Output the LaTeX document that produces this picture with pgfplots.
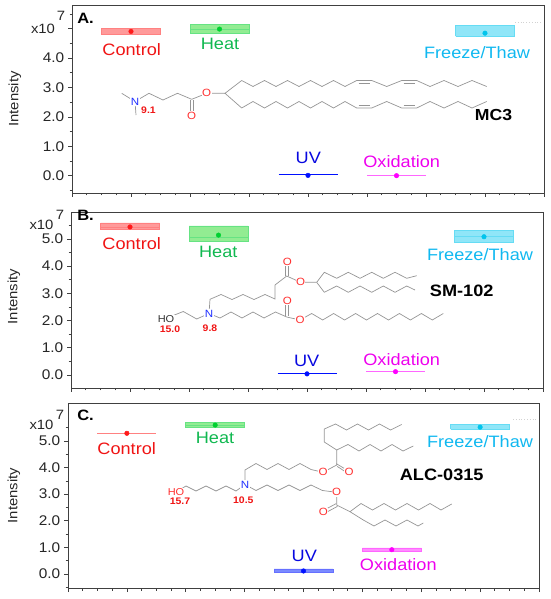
\documentclass[border=0pt]{standalone}
\usepackage{fontspec}
\setmainfont{Liberation Sans}[FakeStretch=1.1]
\usepackage{pgfplots}
\pgfplotsset{compat=1.18}
\definecolor{cR}{HTML}{FF1A1A}
\definecolor{cRt}{HTML}{F01414}
\definecolor{cRf}{HTML}{FF9A9A}
\definecolor{cG}{HTML}{00D030}
\definecolor{cGt}{HTML}{10B850}
\definecolor{cGf}{HTML}{92EC92}
\definecolor{cC}{HTML}{00C4EC}
\definecolor{cCt}{HTML}{10B8F0}
\definecolor{cCf}{HTML}{90E6F8}
\definecolor{cB}{HTML}{0010FF}
\definecolor{cBt}{HTML}{0808E0}
\definecolor{cBf}{HTML}{7A8AFF}
\definecolor{cM}{HTML}{FF00FF}
\definecolor{cMt}{HTML}{EE00EE}
\definecolor{cMf}{HTML}{FF8CFF}
\definecolor{frame}{HTML}{404040}
\definecolor{stc}{HTML}{959595}
\definecolor{oc}{HTML}{FF3030}
\definecolor{nc}{HTML}{2030FF}
\pgfplotsset{
  panel/.style={scale only axis, anchor=south west,
    xmin=0, xmax=8, xtick={0,...,8}, xticklabels={}, minor x tick num=3,
    ytick={0,...,5}, minor ytick={-0.5,0.5,1.5,2.5,3.5,4.5,5.5},
    tick align=outside, tick pos=left,
    major tick length=4pt, minor tick length=2.5pt,
    axis line style={draw=frame, line width=0.9pt},
    every tick/.style={frame, line width=0.7pt},
    yticklabel style={font=\fontsize{14}{14}\selectfont, text=black!85, xshift=-0.3pt},
  },
  bx/.style={line width=0.6pt},
  pt/.style={only marks, mark=*, mark size=2.3pt},
  st/.style={draw=stc, line width=0.7pt},
}
\tikzset{lab/.style={font=\fontsize{16.5}{18}\selectfont},
  sc/.style={font=\fontsize{13.5}{14}\selectfont, text=black!85, inner sep=1pt},
  yl/.style={rotate=90, font=\fontsize{13.5}{14}\selectfont, text=black!85}}
\begin{document}
\begin{tikzpicture}
\path[use as bounding box] (0,0) rectangle (550pt,599pt);

% ---------------- Panel A ----------------
\begin{axis}[panel, at={(72pt,406pt)}, width=472pt, height=188pt,
  ymin=-0.59, ymax=5.81, yticklabels={0.0,1.0,2.0,3.0,4.0,{}}]
\addplot[bx, fill=cRf, draw=cR!55] coordinates {(0.5,4.80) (1.5,4.80) (1.5,5.00) (0.5,5.00) (0.5,4.80)};
\addplot[pt, color=cR] coordinates {(1,4.91)};
\addplot[bx, fill=cGf, draw=cG!60] coordinates {(2,4.84) (3,4.84) (3,5.16) (2,5.16) (2,4.84)};
\addplot[cG!60, line width=0.6pt] coordinates {(2,4.99) (3,4.99)};
\addplot[pt, color=cG] coordinates {(2.5,4.99)};
\addplot[cB, line width=1.1pt] coordinates {(3.5,0.03) (4.5,0.03)};
\addplot[pt, color=cB] coordinates {(4,0.01)};
\addplot[cM!60, line width=0.9pt] coordinates {(5,0.02) (6,0.02)};
\addplot[pt, color=cM] coordinates {(5.5,0.0)};
\addplot[bx, fill=cCf, draw=cC!60] coordinates {(6.5,4.74) (7.5,4.74) (7.5,5.12) (6.5,5.12) (6.5,4.74)};
\addplot[pt, color=cC] coordinates {(7,4.85)};
\end{axis}

% ---------------- Panel B ----------------
\begin{axis}[panel, at={(71pt,211pt)}, width=472pt, height=176pt,
  ymin=-0.48, ymax=5.99, yticklabels={0.0,1.0,2.0,3.0,4.0,5.0}]
\addplot[bx, fill=cRf, draw=cR!55] coordinates {(0.5,5.34) (1.5,5.34) (1.5,5.59) (0.5,5.59) (0.5,5.34)};
\addplot[cR!55, line width=0.6pt] coordinates {(0.5,5.44) (1.5,5.44)};
\addplot[pt, color=cR] coordinates {(1,5.44)};
\addplot[bx, fill=cGf, draw=cG!60] coordinates {(2,4.90) (3,4.90) (3,5.48) (2,5.48) (2,4.90)};
\addplot[cG!60, line width=0.6pt] coordinates {(2,5.06) (3,5.06)};
\addplot[pt, color=cG] coordinates {(2.5,5.14)};
\addplot[cB, line width=1.1pt] coordinates {(3.5,0.05) (4.5,0.05)};
\addplot[pt, color=cB] coordinates {(4,0.04)};
\addplot[cM!60, line width=0.9pt] coordinates {(5,0.14) (6,0.14)};
\addplot[pt, color=cM] coordinates {(5.5,0.12)};
\addplot[bx, fill=cCf, draw=cC!60] coordinates {(6.5,4.86) (7.5,4.86) (7.5,5.31) (6.5,5.31) (6.5,4.86)};
\addplot[cC!60, line width=0.6pt] coordinates {(6.5,5.08) (7.5,5.08)};
\addplot[pt, color=cC] coordinates {(7,5.08)};
\end{axis}

% ---------------- Panel C ----------------
\begin{axis}[panel, at={(68pt,11pt)}, width=471pt, height=185pt,
  ymin=-0.53, ymax=6.43, yticklabels={0.0,1.0,2.0,3.0,4.0,5.0}]
\addplot[cR!55, line width=0.9pt] coordinates {(0.5,5.29) (1.5,5.29)};
\addplot[pt, color=cR] coordinates {(1,5.29)};
\addplot[bx, fill=cGf, draw=cG!60] coordinates {(2,5.50) (3,5.50) (3,5.71) (2,5.71) (2,5.50)};
\addplot[cG!60, line width=0.6pt] coordinates {(2,5.60) (3,5.60)};
\addplot[pt, color=cG] coordinates {(2.5,5.60)};
\addplot[bx, fill=cBf, draw=cB!60] coordinates {(3.5,0.05) (4.5,0.05) (4.5,0.19) (3.5,0.19) (3.5,0.05)};
\addplot[pt, color=cB] coordinates {(4,0.11)};
\addplot[bx, fill=cMf, draw=cM!60] coordinates {(5,0.84) (6,0.84) (6,0.98) (5,0.98) (5,0.84)};
\addplot[pt, color=cM] coordinates {(5.5,0.91)};
\addplot[bx, fill=cCf, draw=cC!60] coordinates {(6.5,5.44) (7.5,5.44) (7.5,5.61) (6.5,5.61) (6.5,5.44)};
\addplot[pt, color=cC] coordinates {(7,5.52)};
\end{axis}

% ---------------- Overlay (pixel coordinates) ----------------
\begin{axis}[at={(0pt,0pt)}, anchor=south west, scale only axis, width=550pt, height=599pt,
  xmin=0, xmax=550, ymin=0, ymax=599, y dir=reverse, hide axis, clip=false]
\node[yl] at (axis cs:15,99) {Intensity};
\node[yl] at (axis cs:14,296.5) {Intensity};
\node[yl] at (axis cs:14,495.5) {Intensity};
\node[sc] at (axis cs:43,29) {x10};
\node[sc] at (axis cs:61,15.5) {7};
\node[sc] at (axis cs:41.5,225) {x10};
\node[sc] at (axis cs:60,215) {7};
\node[sc] at (axis cs:41.5,425) {x10};
\node[sc] at (axis cs:60,414.5) {7};
\node[font=\bfseries\fontsize{15}{15}\selectfont] at (axis cs:85.5,18.5) {A.};
\node[font=\bfseries\fontsize{15}{15}\selectfont] at (axis cs:85.5,215.5) {B.};
\node[font=\bfseries\fontsize{15}{15}\selectfont] at (axis cs:85.5,415) {C.};
% condition labels A
\node[lab, text=cRt] at (axis cs:131.7,50) {Control};
\node[lab, text=cGt] at (axis cs:220,43.5) {Heat};
\node[lab, text=cCt] at (axis cs:477,52.7) {Freeze/Thaw};
\node[lab, text=cBt] at (axis cs:308.3,158.3) {UV};
\node[lab, text=cMt] at (axis cs:401.7,161.5) {Oxidation};
% condition labels B
\node[lab, text=cRt] at (axis cs:131.7,243.3) {Control};
\node[lab, text=cGt] at (axis cs:218.3,252.3) {Heat};
\node[lab, text=cCt] at (axis cs:480,255) {Freeze/Thaw};
\node[lab, text=cBt] at (axis cs:306.7,361) {UV};
\node[lab, text=cMt] at (axis cs:401.7,360) {Oxidation};
% condition labels C
\node[lab, text=cRt] at (axis cs:126.7,448.3) {Control};
\node[lab, text=cGt] at (axis cs:215,438.3) {Heat};
\node[lab, text=cCt] at (axis cs:480,441.7) {Freeze/Thaw};
\node[lab, text=cBt] at (axis cs:304.3,556) {UV};
\node[lab, text=cMt] at (axis cs:398.3,565) {Oxidation};
\addplot[gray!35, dotted, line width=0.8pt] coordinates {(515,22) (541,22)};
\addplot[gray!35, dotted, line width=0.8pt] coordinates {(513,419) (536,419)};

% ===== MC3 structure =====
\addplot[st] coordinates {(121.7,93.3) (135,101.5)};
\addplot[st] coordinates {(135,101.5) (136,115)};
\addplot[st] coordinates {(135,101.5) (149,93.3) (163,100) (177.5,93.3) (191.7,99.3) (206.7,93.3) (225,93.3)};
\addplot[st] coordinates {(190.4,100) (190.4,112)};
\addplot[st] coordinates {(193,100) (193,112)};
\addplot[st] coordinates {(241.7,80.5) (225,93.3) (241.7,108)};
\addplot[st] coordinates {(241.7,80.5) (253,86.5) (264.5,80.5) (276,86.5) (287.5,80.5) (299,86.5) (310.5,80.5) (322,86.5) (333.5,80.5) (345,86.5) (356.7,80.5) (371.7,80.5) (386.7,86.5) (401.7,80.5) (416.7,80.5) (430,86.5) (444,80.5) (458,86.5) (472,80.5) (486.7,86.5)};
\addplot[st] coordinates {(358.5,83.3) (370,83.3)};
\addplot[st] coordinates {(403.5,83.3) (415,83.3)};
\addplot[st] coordinates {(241.7,108) (253,101.5) (264.5,108) (276,101.5) (287.5,108) (299,101.5) (310.5,108) (322,101.5) (333.5,108) (345,101.5) (356.7,108) (371.7,108) (386.7,101.5) (401.7,108) (416.7,108) (430,101.5) (444,108) (458,101.5) (472,108) (486.7,101.5)};
\addplot[st] coordinates {(358.5,105.2) (370,105.2)};
\addplot[st] coordinates {(403.5,105.2) (415,105.2)};
\node[fill=white, inner sep=0.5pt, text=nc, font=\fontsize{10.5}{11}\selectfont] at (axis cs:135,101.5) {N};
\node[text=cRt, font=\bfseries\fontsize{9.5}{10}\selectfont] at (axis cs:148.5,110.5) {9.1};
\node[fill=white, inner sep=0.5pt, text=oc, font=\fontsize{10.5}{11}\selectfont] at (axis cs:191.7,115.5) {O};
\node[fill=white, inner sep=0.5pt, text=oc, font=\fontsize{10.5}{11}\selectfont] at (axis cs:206.7,93.3) {O};
\node[font=\bfseries\fontsize{16}{17}\selectfont] at (axis cs:493.5,115.5) {MC3};

% ===== SM-102 structure =====
\addplot[st] coordinates {(167,318) (183.3,311.5) (196.7,319) (209,313.5)};
\addplot[st] coordinates {(209,313.5) (210,299.3) (221,294.5) (232,299.5) (243,294.5) (254,299.5) (265,294.5) (275,299) (275,285) (286.7,276)};
\addplot[st] coordinates {(285.4,276) (285.4,263.5)};
\addplot[st] coordinates {(288,276) (288,263.5)};
\addplot[st] coordinates {(286.7,276) (300.5,282.3) (316.7,282.3)};
\addplot[st] coordinates {(316.7,282.3) (324.3,272.3) (336.7,278.3) (348.3,272.3) (360,278.3) (371.7,272.3) (383.3,278.3) (395,272.3) (406.7,278.3) (416.7,275.7)};
\addplot[st] coordinates {(316.7,282.3) (324.3,292.3) (336.7,286) (348.3,292.3) (360,286) (371.7,292.3) (383.3,286) (395,292.3) (406.7,286) (415,290)};
\addplot[st] coordinates {(209,313.5) (220,318) (231,312) (242,318) (253,312) (264,318) (275.5,312) (286.7,317)};
\addplot[st] coordinates {(285.4,316) (285.4,303.5)};
\addplot[st] coordinates {(288,316) (288,303.5)};
\addplot[st] coordinates {(286.7,317) (300,320) (311.7,313.5) (322.7,320) (333.6,313.5) (344.6,320) (355.6,313.5) (366.5,320) (377.5,313.5) (388.5,320) (399.4,313.5) (410.4,320) (421.4,313.5) (432.3,320) (443.3,313.5)};
\node[fill=white, inner sep=0.5pt, text=black!80, font=\fontsize{10}{11}\selectfont] at (axis cs:166,319.3) {HO};
\node[text=cRt, font=\bfseries\fontsize{9.5}{10}\selectfont] at (axis cs:170,328.8) {15.0};
\node[fill=white, inner sep=0.5pt, text=nc, font=\fontsize{10.5}{11}\selectfont] at (axis cs:209,313.5) {N};
\node[text=cRt, font=\bfseries\fontsize{9.5}{10}\selectfont] at (axis cs:210,327.8) {9.8};
\node[fill=white, inner sep=0.5pt, text=oc, font=\fontsize{10.5}{11}\selectfont] at (axis cs:287.3,261.5) {O};
\node[fill=white, inner sep=0.5pt, text=oc, font=\fontsize{10.5}{11}\selectfont] at (axis cs:300.5,282.3) {O};
\node[fill=white, inner sep=0.5pt, text=oc, font=\fontsize{10.5}{11}\selectfont] at (axis cs:287.3,301) {O};
\node[fill=white, inner sep=0.5pt, text=oc, font=\fontsize{10.5}{11}\selectfont] at (axis cs:300,320) {O};
\node[font=\bfseries\fontsize{16.5}{17}\selectfont] at (axis cs:461.7,291) {SM-102};

% ===== ALC-0315 structure =====
\addplot[st] coordinates {(176.7,491.5) (186,486) (196,491) (206,486) (216,491) (226,486) (236,491) (245,484.5)};
\addplot[st] coordinates {(245,484.5) (245,470) (256,463.5) (267,469.5) (278,463.5) (289,469.5) (300,463.5) (311,469.5) (323,472.3) (336.7,465) (336.7,450)};
\addplot[st] coordinates {(336.2,463.6) (347.6,470.4)};
\addplot[st] coordinates {(337.2,466.4) (346.4,472.4)};
\addplot[st] coordinates {(336.7,450) (324.3,442) (324.3,429) (335.5,424) (346.5,430) (357.5,424) (368.5,430) (379.5,424) (390.5,430) (401.7,424.5)};
\addplot[st] coordinates {(336.7,450) (348,444.5) (359,451) (370,444.5) (381,451) (392,444.5) (403,451) (413.3,446)};
\addplot[st] coordinates {(245,484.5) (256,490.5) (267,485) (278,490.5) (289,485) (300,490.5) (311,485) (322.5,490.5) (336.7,492.3) (336.7,505) (350,511.7)};
\addplot[st] coordinates {(336.2,503.6) (325,509.6)};
\addplot[st] coordinates {(337.4,506.4) (326.2,512.4)};
\addplot[st] coordinates {(350,511.7) (361,503.5) (372.5,510) (384,503.5) (395.5,510) (407,503.5) (418.5,510) (430,503.5) (441,510) (451.7,504)};
\addplot[st] coordinates {(350,511.7) (363.3,520) (374,526) (385,520) (396,526) (407,520) (418,526) (423.3,523)};
\node[fill=white, inner sep=0.5pt, text=oc, font=\fontsize{10}{11}\selectfont] at (axis cs:176,491.7) {HO};
\node[text=cRt, font=\bfseries\fontsize{9.5}{10}\selectfont] at (axis cs:180,500.8) {15.7};
\node[fill=white, inner sep=0.5pt, text=nc, font=\fontsize{10.5}{11}\selectfont] at (axis cs:245,484.5) {N};
\node[text=cRt, font=\bfseries\fontsize{9.5}{10}\selectfont] at (axis cs:243.3,500) {10.5};
\node[fill=white, inner sep=0.5pt, text=oc, font=\fontsize{10.5}{11}\selectfont] at (axis cs:323,472.3) {O};
\node[fill=white, inner sep=0.5pt, text=oc, font=\fontsize{10.5}{11}\selectfont] at (axis cs:349,472.3) {O};
\node[fill=white, inner sep=0.5pt, text=oc, font=\fontsize{10.5}{11}\selectfont] at (axis cs:336.7,492.3) {O};
\node[fill=white, inner sep=0.5pt, text=oc, font=\fontsize{10.5}{11}\selectfont] at (axis cs:323.3,512.3) {O};
\node[font=\bfseries\fontsize{16.5}{17}\selectfont] at (axis cs:441.7,475) {ALC-0315};
\end{axis}
\end{tikzpicture}
\end{document}
